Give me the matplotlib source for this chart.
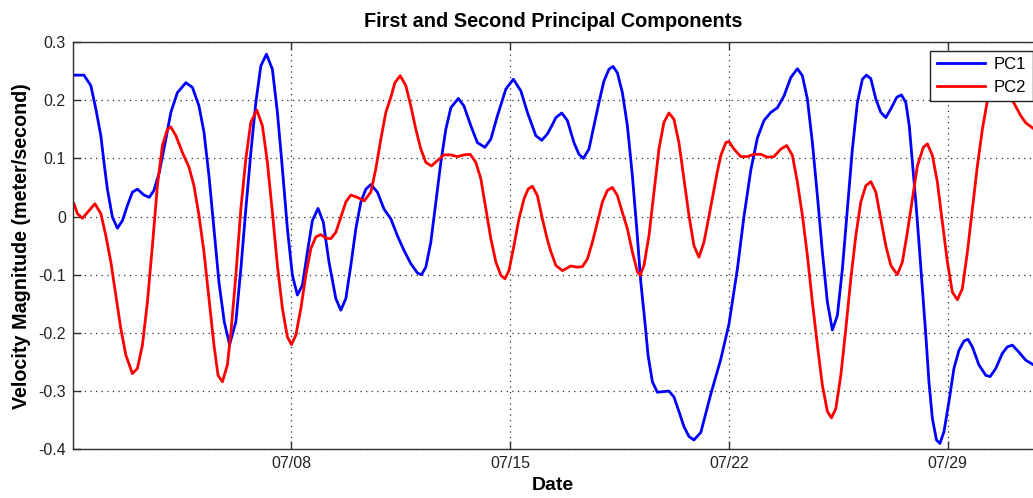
import numpy as np
import matplotlib
matplotlib.use("Agg")
import matplotlib.pyplot as plt
import matplotlib.dates as mdates
from datetime import datetime

plt.rcParams['font.family'] = ['Liberation Sans', 'DejaVu Sans']
plt.rcParams['axes.unicode_minus'] = False

# === DATA (days since 07/01, velocity in m/s) ===
START = datetime(2013, 7, 1)
X_SPAN_DAYS = 30.73

pc1_days = [0.04, 0.36, 0.58, 0.74, 0.90, 1.00, 1.11, 1.27, 1.43, 1.59, 1.75, 1.91, 2.07, 2.28,
            2.45, 2.60, 2.77, 2.98, 3.14, 3.35, 3.62, 3.83, 4.04, 4.20, 4.36, 4.52, 4.68, 4.85,
            5.02, 5.22, 5.38, 5.54, 5.70, 5.86, 6.02, 6.20, 6.39, 6.55, 6.71, 6.87, 7.03, 7.19,
            7.35, 7.51, 7.67, 7.85, 8.02, 8.20, 8.42, 8.58, 8.74, 8.90, 9.06, 9.22, 9.38, 9.54,
            9.75, 9.96, 10.18, 10.39, 10.60, 10.82, 11.03, 11.16, 11.30, 11.46, 11.62, 11.78,
            11.94, 12.10, 12.34, 12.52, 12.74, 12.95, 13.19, 13.38, 13.59, 13.86, 14.10, 14.34,
            14.55, 14.82, 15.01, 15.19, 15.36, 15.46, 15.65, 15.83, 16.04, 16.20, 16.34, 16.52,
            16.68, 16.84, 17.00, 17.16, 17.29, 17.43, 17.59, 17.75, 17.91, 18.05, 18.18, 18.31,
            18.41, 18.55, 18.71, 18.87, 19.08, 19.24, 19.40, 19.56, 19.72, 19.88, 20.10, 20.42,
            20.74, 21.00, 21.27, 21.48, 21.70, 21.91, 22.12, 22.34, 22.55, 22.76, 22.98, 23.19,
            23.35, 23.51, 23.67, 23.83, 23.99, 24.15, 24.31, 24.47, 24.63, 24.79, 24.95, 25.11,
            25.27, 25.40, 25.54, 25.70, 25.86, 26.02, 26.18, 26.37, 26.52, 26.66, 26.77, 26.87,
            26.98, 27.08, 27.19, 27.30, 27.40, 27.51, 27.64, 27.75, 27.88, 28.04, 28.20, 28.36,
            28.52, 28.65, 28.79, 29.00, 29.22, 29.36, 29.54, 29.75, 29.91, 30.07, 30.28, 30.50,
            30.75]
pc1_vals = [0.243, 0.243, 0.225, 0.185, 0.139, 0.093, 0.047, -0.001, -0.020, -0.007, 0.019, 0.042,
            0.047, 0.037, 0.033, 0.045, 0.076, 0.133, 0.179, 0.213, 0.230, 0.222, 0.190, 0.145,
            0.070, -0.021, -0.113, -0.181, -0.220, -0.181, -0.090, 0.013, 0.110, 0.196, 0.259,
            0.279, 0.253, 0.179, 0.082, -0.021, -0.101, -0.135, -0.118, -0.061, -0.007, 0.014,
            -0.010, -0.078, -0.141, -0.161, -0.141, -0.084, -0.021, 0.025, 0.047, 0.055, 0.042,
            0.013, -0.004, -0.033, -0.058, -0.081, -0.097, -0.100, -0.087, -0.044, 0.025, 0.093,
            0.150, 0.187, 0.203, 0.190, 0.156, 0.127, 0.119, 0.133, 0.173, 0.219, 0.236, 0.216,
            0.179, 0.139, 0.131, 0.142, 0.159, 0.170, 0.178, 0.165, 0.127, 0.107, 0.100, 0.116,
            0.156, 0.196, 0.233, 0.253, 0.258, 0.247, 0.213, 0.156, 0.070, -0.021, -0.113, -0.181,
            -0.238, -0.284, -0.302, -0.301, -0.300, -0.310, -0.335, -0.361, -0.378, -0.384, -0.371,
            -0.305, -0.245, -0.185, -0.090, 0.000, 0.080, 0.135, 0.165, 0.179, 0.187, 0.207, 0.239,
            0.254, 0.242, 0.202, 0.127, 0.036, -0.061, -0.147, -0.195, -0.170, -0.090, 0.013, 0.116,
            0.196, 0.236, 0.243, 0.237, 0.202, 0.179, 0.170, 0.185, 0.205, 0.209, 0.196, 0.156,
            0.093, 0.025, -0.044, -0.124, -0.204, -0.284, -0.347, -0.384, -0.390, -0.370, -0.318,
            -0.261, -0.230, -0.214, -0.211, -0.224, -0.255, -0.273, -0.275, -0.261, -0.235, -0.224,
            -0.221, -0.233, -0.247, -0.255]

pc2_days = [0.04, 0.15, 0.31, 0.47, 0.71, 0.90, 1.06, 1.22, 1.38, 1.54, 1.70, 1.91, 2.07, 2.23,
            2.39, 2.55, 2.71, 2.87, 3.03, 3.14, 3.30, 3.51, 3.72, 3.88, 4.04, 4.20, 4.36, 4.52,
            4.65, 4.79, 4.95, 5.06, 5.22, 5.38, 5.54, 5.70, 5.89, 6.07, 6.23, 6.39, 6.55, 6.71,
            6.87, 7.00, 7.14, 7.30, 7.46, 7.62, 7.78, 7.94, 8.10, 8.26, 8.42, 8.58, 8.74, 8.90,
            9.11, 9.33, 9.54, 9.70, 9.86, 10.02, 10.18, 10.31, 10.48, 10.66, 10.82, 10.98, 11.14,
            11.30, 11.48, 11.67, 11.88, 12.10, 12.31, 12.52, 12.72, 12.90, 13.06, 13.22, 13.38,
            13.54, 13.70, 13.83, 13.96, 14.12, 14.28, 14.44, 14.57, 14.71, 14.87, 15.03, 15.19,
            15.30, 15.46, 15.67, 15.94, 16.15, 16.31, 16.47, 16.63, 16.79, 16.95, 17.11, 17.27,
            17.43, 17.59, 17.75, 17.91, 18.07, 18.16, 18.28, 18.44, 18.60, 18.76, 18.92, 19.08,
            19.24, 19.40, 19.56, 19.72, 19.88, 20.04, 20.20, 20.36, 20.50, 20.62, 20.74, 20.90,
            21.00, 21.16, 21.38, 21.59, 21.80, 22.02, 22.23, 22.44, 22.66, 22.85, 23.03, 23.19,
            23.35, 23.51, 23.67, 23.83, 23.99, 24.15, 24.28, 24.42, 24.58, 24.74, 24.90, 25.06,
            25.22, 25.38, 25.54, 25.70, 25.86, 26.02, 26.18, 26.39, 26.55, 26.71, 26.87, 27.03,
            27.22, 27.35, 27.51, 27.67, 27.83, 27.99, 28.15, 28.31, 28.47, 28.63, 28.79, 28.95,
            29.11, 29.27, 29.45, 29.65, 29.85, 30.00, 30.11, 30.34, 30.50, 30.75]
pc2_vals = [0.022, 0.005, -0.003, 0.007, 0.022, 0.005, -0.033, -0.078, -0.135, -0.193, -0.238,
            -0.270, -0.261, -0.221, -0.147, -0.050, 0.053, 0.122, 0.150, 0.154, 0.139, 0.110,
            0.085, 0.053, 0.002, -0.061, -0.141, -0.221, -0.273, -0.284, -0.255, -0.200, -0.101,
            0.013, 0.099, 0.162, 0.183, 0.156, 0.093, 0.007, -0.084, -0.158, -0.207, -0.220,
            -0.204, -0.158, -0.101, -0.055, -0.035, -0.031, -0.037, -0.038, -0.027, -0.001, 0.025,
            0.037, 0.033, 0.027, 0.042, 0.082, 0.133, 0.179, 0.205, 0.230, 0.242, 0.225, 0.190,
            0.150, 0.116, 0.093, 0.087, 0.096, 0.106, 0.106, 0.103, 0.106, 0.107, 0.093, 0.065,
            0.013, -0.038, -0.078, -0.101, -0.107, -0.093, -0.050, -0.004, 0.030, 0.047, 0.052,
            0.036, -0.004, -0.040, -0.060, -0.084, -0.093, -0.085, -0.087, -0.086, -0.073, -0.044,
            -0.010, 0.025, 0.045, 0.050, 0.036, 0.007, -0.021, -0.061, -0.095, -0.101, -0.084,
            -0.033, 0.042, 0.116, 0.162, 0.178, 0.167, 0.127, 0.065, 0.002, -0.050, -0.070,
            -0.044, 0.000, 0.040, 0.075, 0.105, 0.127, 0.129, 0.116, 0.103, 0.103, 0.107, 0.107,
            0.102, 0.103, 0.116, 0.122, 0.105, 0.059, 0.002, -0.067, -0.147, -0.221, -0.290,
            -0.335, -0.346, -0.330, -0.273, -0.193, -0.107, -0.033, 0.025, 0.053, 0.060, 0.042,
            -0.004, -0.050, -0.084, -0.100, -0.078, -0.027, 0.030, 0.087, 0.119, 0.125, 0.105,
            0.059, -0.010, -0.078, -0.130, -0.143, -0.124, -0.061, 0.013, 0.087, 0.150, 0.199,
            0.218, 0.228, 0.222, 0.208, 0.196, 0.173, 0.161, 0.151]

TICK_DATES = [datetime(2013, 7, 8), datetime(2013, 7, 15), datetime(2013, 7, 22), datetime(2013, 7, 29)]
Y_TICKS = [-0.4, -0.3, -0.2, -0.1, 0, 0.1, 0.2, 0.3]

# === PLOT ===
fig = plt.figure(figsize=(10.33, 4.98), dpi=100)
ax = fig.add_axes([0.0704, 0.0978, 0.9296, 0.8179])

t0 = mdates.date2num(START)
ax.plot(t0 + np.array(pc1_days), pc1_vals, color='#0000ff', lw=2, label='PC1')
ax.plot(t0 + np.array(pc2_days), pc2_vals, color='#ff0000', lw=2, label='PC2')

ax.set_xlim(t0, t0 + X_SPAN_DAYS)
ax.set_ylim(-0.4, 0.3)
ax.set_xticks(mdates.date2num(TICK_DATES))
ax.xaxis.set_major_formatter(mdates.DateFormatter('%m/%d'))
ax.set_yticks(Y_TICKS)
ax.set_yticklabels([f"{v:g}" for v in Y_TICKS])

ax.grid(True, color='#303030', linestyle=(0, (1, 3.5)), linewidth=0.9)
ax.tick_params(direction='in', length=6, width=1, color='#303030',
               labelsize=11.5, labelcolor='#222222', top=True, pad=5)
for side in ['left', 'top', 'bottom']:
    ax.spines[side].set_color('#303030')
    ax.spines[side].set_linewidth(1)
ax.spines['right'].set_visible(False)

ax.set_title('First and Second Principal Components', fontsize=14.3, fontweight='bold', pad=11)
ax.set_xlabel('Date', fontsize=14, fontweight='bold', labelpad=4)
ax.set_ylabel('Velocity Magnitude (meter/second)', fontsize=14.2, fontweight='bold', labelpad=5)

leg = ax.legend(loc='upper right', bbox_to_anchor=(0.9995, 0.979), fontsize=12,
                fancybox=False, framealpha=1, edgecolor='#222222', borderaxespad=0,
                handlelength=2.9, handletextpad=0.5, labelspacing=0.45, borderpad=0.4)
leg.get_frame().set_linewidth(1)

fig.savefig('out.png', dpi=100)
